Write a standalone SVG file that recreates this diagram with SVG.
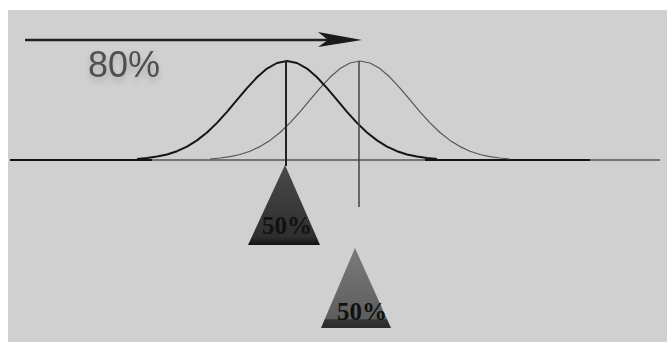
<svg xmlns="http://www.w3.org/2000/svg" width="667" height="342" viewBox="0 0 667 342">
<style>
.dark{fill:none;stroke:#151515;stroke-width:2;stroke-linejoin:round}
.light{fill:none;stroke:#555;stroke-width:1.2;stroke-linejoin:round}
.pct{font-family:"Liberation Serif","Times New Roman",serif;font-weight:bold;font-size:25px;fill:#111;text-anchor:middle}
.big{font-family:"Liberation Sans",Arial,sans-serif;font-size:36px;text-anchor:middle}
</style>
<defs>
<path id="bell" d="M-150,159 L-140,158 L-130,156.6 L-120,154.5 L-110,151.2 L-100,146.6 L-90,140.4 L-80,132.5 L-70,122.9 L-60,111.8 L-50,99.9 L-40,88.1 L-30,77.3 L-20,68.6 L-10,63 L0,61 L10,63 L20,68.6 L30,77.3 L40,88.1 L50,99.9 L60,111.8 L70,122.9 L80,132.5 L90,140.4 L100,146.6 L110,151.2 L120,154.5 L130,156.6 L140,158 L150,159"/>
<linearGradient id="g1" x1="0" y1="0" x2="0" y2="1"><stop offset="0" stop-color="#4a4a4a"/><stop offset="0.9" stop-color="#2e2e2e"/><stop offset="1" stop-color="#111"/></linearGradient>
<linearGradient id="g2" x1="0" y1="0" x2="0" y2="1"><stop offset="0" stop-color="#7a7a7a"/><stop offset="0.88" stop-color="#5e5e5e"/><stop offset="0.9" stop-color="#333"/><stop offset="1" stop-color="#2a2a2a"/></linearGradient>
<filter id="shadow" x="-20%" y="-30%" width="140%" height="180%">
<feGaussianBlur in="SourceAlpha" stdDeviation="3"/>
<feOffset dy="4" result="b"/>
<feFlood flood-color="#000" flood-opacity="0.18"/>
<feComposite in2="b" operator="in"/>
<feMerge><feMergeNode/><feMergeNode in="SourceGraphic"/></feMerge>
</filter>
</defs>
<rect x="0" y="0" width="667" height="342" fill="#fff"/>
<rect x="8" y="10" width="659" height="332" fill="#d0d0d0"/>
<g id="connectors">
<line x1="10" y1="160" x2="660" y2="160" stroke="#555" stroke-width="1.5"/>
<line x1="10" y1="160" x2="152" y2="160" stroke="#151515" stroke-width="2"/>
<line x1="425" y1="160" x2="590" y2="160" stroke="#151515" stroke-width="2"/>
<use href="#bell" class="light" transform="translate(360,0)"/>
<use href="#bell" class="dark" transform="translate(287,0)"/>
<line x1="286" y1="61" x2="286" y2="166" stroke="#222" stroke-width="2"/>
<line x1="359" y1="61" x2="359" y2="207" stroke="#444" stroke-width="1.5"/>
<line x1="25" y1="40" x2="330" y2="40" stroke="#222" stroke-width="2.5"/>
<polygon points="318,32 362,40 318,47 328,40" fill="#1a1a1a"/>
</g>
<g id="label80">
<text x="124" y="77" class="big" fill="#505050" filter="url(#shadow)">80%</text>
</g>
<g id="tri1">
<polygon points="285,165 320,245 248,245" fill="url(#g1)"/>
<text x="287" y="234" class="pct">50%</text>
</g>
<g id="tri2">
<polygon points="355,248 391,328 321,328" fill="url(#g2)"/>
<text x="362" y="320" class="pct">50%</text>
</g>
</svg>
